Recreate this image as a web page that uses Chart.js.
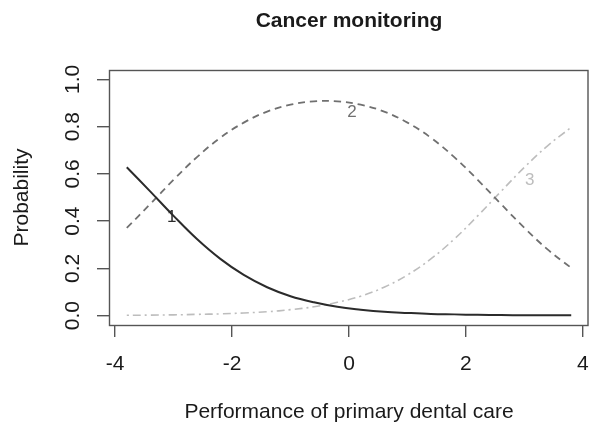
<!DOCTYPE html>
<html>
<head>
<meta charset="utf-8">
<script src="https://cdn.jsdelivr.net/npm/chart.js@4/dist/chart.umd.min.js"></script>
<style>
  html, body { margin: 0; padding: 0; background: #fff; }
  #wrap { width: 589px; height: 430px; }
</style>
</head>
<body>
<div id="wrap"><canvas id="myChart" width="589" height="430"></canvas></div>
<script>
// valores
const xs = [-3.8, -3.4, -3.0, -2.6, -2.2, -1.8, -1.4, -1.0, -0.6, -0.2, 0.2, 0.6, 1.0, 1.4, 1.8, 2.2, 2.6, 3.0, 3.4, 3.8];
const p1 = [0.628, 0.526, 0.422, 0.324, 0.240, 0.172, 0.120, 0.082, 0.056, 0.037, 0.025, 0.016, 0.011, 0.007, 0.005, 0.003, 0.002, 0.001, 0.001, 0.001];
const p2 = [0.371, 0.472, 0.575, 0.671, 0.753, 0.817, 0.864, 0.893, 0.907, 0.907, 0.893, 0.864, 0.817, 0.753, 0.671, 0.575, 0.472, 0.371, 0.279, 0.202];
const p3 = [0.001, 0.002, 0.003, 0.005, 0.007, 0.011, 0.016, 0.025, 0.037, 0.056, 0.082, 0.120, 0.172, 0.240, 0.324, 0.422, 0.526, 0.628, 0.720, 0.797];
const xTicks = [-4, -2, 0, 2, 4];
const yTicks = [0, 0.2, 0.4, 0.6, 0.8, 1.0];
const curveNames = ['1', '2', '3'];
const curveNameX = [-3.03, 0.05, 3.09];
const curveNameY = [0.415, 0.86, 0.574];

const FONT = "'Liberation Sans', Arial, sans-serif";
const colors = ['#2b2b2b', '#707070', '#bdbdbd'];

function pts(ys) {
    return xs.map((x, i) => ({ x: x, y: ys[i] }));
}

// caixa em volta da área do gráfico (como box() do R)
const boxPlugin = {
    id: 'box',
    afterDatasetsDraw(chart) {
        const a = chart.chartArea;
        const ctx = chart.ctx;
        ctx.save();
        ctx.strokeStyle = '#555';
        ctx.lineWidth = 1.4;
        ctx.strokeRect(a.left + 0.5, a.top + 0.5, a.right - a.left - 1.5, a.bottom - a.top);
        ctx.restore();
    }
};

// números das curvas
const curveLabelPlugin = {
    id: 'curveLabels',
    afterDatasetsDraw(chart) {
        const ctx = chart.ctx;
        const sx = chart.scales.x, sy = chart.scales.y;
        ctx.save();
        ctx.font = '17px ' + FONT;
        ctx.textAlign = 'center';
        ctx.textBaseline = 'middle';
        curveNames.forEach((t, i) => {
            ctx.fillStyle = colors[i];
            ctx.fillText(t, sx.getPixelForValue(curveNameX[i]), sy.getPixelForValue(curveNameY[i]));
        });
        ctx.restore();
    }
};

const ctx = document.getElementById('myChart').getContext('2d');
const myChart = new Chart(ctx, {
    type: 'line',
    data: {
        datasets: [
            { data: pts(p1), borderColor: colors[0], borderWidth: 2, borderDash: [] },
            { data: pts(p2), borderColor: colors[1], borderWidth: 1.8, borderDash: [7, 5] },
            { data: pts(p3), borderColor: colors[2], borderWidth: 1.6, borderDash: [2, 4, 8, 4] }
        ]
    },
    options: {
        responsive: false,
        animation: false,
        devicePixelRatio: 1,
        layout: { padding: 0 },
        elements: {
            point: { radius: 0 },
            line: { tension: 0.4, fill: false }
        },
        plugins: {
            legend: { display: false },
            tooltip: { enabled: false },
            title: {
                display: true,
                text: 'Cancer monitoring',
                fullSize: false,
                color: '#1a1a1a',
                font: { family: FONT, size: 21, weight: 'bold' },
                padding: { top: 9, bottom: 35.8 }
            }
        },
        scales: {
            x: {
                type: 'linear',
                min: -4.104,
                max: 4.104,
                border: { display: false },
                grid: { drawOnChartArea: false, drawTicks: true, tickLength: 12, color: '#555', lineWidth: 1.4 },
                ticks: {
                    color: '#1a1a1a',
                    font: { family: FONT, size: 21 },
                    padding: 15,
                    maxRotation: 0,
                    callback: v => String(v)
                },
                afterBuildTicks: s => { s.ticks = xTicks.map(v => ({ value: v })); },
                afterFit: s => {
                    s.height = 105;
                    s.paddingLeft = 0; s.paddingRight = 0;
                },
                title: {
                    display: true,
                    text: 'Performance of primary dental care',
                    color: '#1a1a1a',
                    font: { family: FONT, size: 21 },
                    padding: { top: 0, bottom: 5 }
                }
            },
            y: {
                type: 'linear',
                min: -0.04,
                max: 1.04,
                border: { display: false },
                grid: { drawOnChartArea: false, drawTicks: true, tickLength: 12, color: '#555', lineWidth: 1.4 },
                ticks: {
                    color: '#1a1a1a',
                    font: { family: FONT, size: 21 },
                    padding: 9,
                    minRotation: 90,
                    maxRotation: 90,
                    crossAlign: 'center',
                    callback: v => Number(v).toFixed(1)
                },
                afterBuildTicks: s => { s.ticks = yTicks.map(v => ({ value: v })); },
                afterFit: s => {
                    s.width = 109;
                    s.paddingTop = 0; s.paddingBottom = 0;
                },
                title: {
                    display: true,
                    text: 'Probability',
                    color: '#1a1a1a',
                    font: { family: FONT, size: 21 },
                    padding: { top: 10, bottom: 0 }
                }
            }
        }
    },
    plugins: [boxPlugin, curveLabelPlugin]
});
</script>
</body>
</html>
